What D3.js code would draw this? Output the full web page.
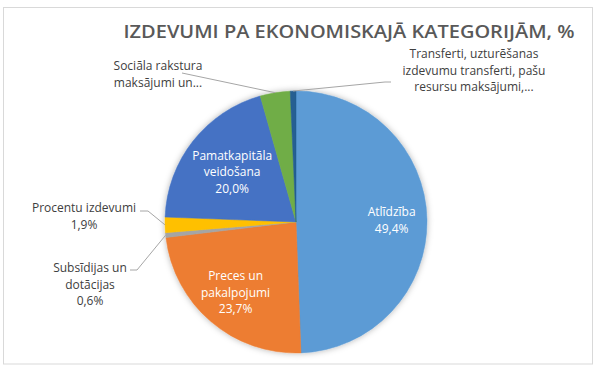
<!DOCTYPE html>
<html>
<head>
<meta charset="utf-8">
<script src="https://cdn.jsdelivr.net/npm/d3@7"></script>
<style>
  html, body { margin: 0; padding: 0; background: #fff; }
  svg { display: block; }
  text { font-family: "Open Sans", "Noto Sans", sans-serif; }
</style>
</head>
<body>
<svg id="chart" width="600" height="371"></svg>
<script>
// ---- Data ----
const title = "IZDEVUMI PA EKONOMISKAJĀ KATEGORIJĀM, %";
const categories = [
  "Atlīdzība",
  "Preces un pakalpojumi",
  "Subsīdijas un dotācijas",
  "Procentu izdevumi",
  "Pamatkapitāla veidošana",
  "Sociāla rakstura maksājumi un...",
  "Transferti, uzturēšanas izdevumu transferti, pašu resursu maksājumi,..."
];
const values = [49.4, 23.7, 0.6, 1.9, 20.0, 3.7, 0.7];
const colors = ["#5B9BD5", "#ED7D31", "#A5A5A5", "#FFC000", "#4472C4", "#70AD47", "#255E91"];
// label text lines (percentage appended where shown)
const labelLines = [
  ["Atlīdzība"],
  ["Preces un", "pakalpojumi"],
  ["Subsīdijas un", "dotācijas"],
  ["Procentu izdevumi"],
  ["Pamatkapitāla", "veidošana"],
  ["Sociāla rakstura", "maksājumi un..."],
  ["Transferti, uzturēšanas", "izdevumu transferti, pašu", "resursu maksājumi,..."]
];
const showPercent = [true, true, true, true, true, false, false];

// ---- Layout ----
const W = 600, H = 371;
const cx = 296, cy = 222, R = 131;
const lineH = 16.5;
// outside labels: text center x, first line y, leader path elbow points (label side)
const outside = {
  2: { x: 90, y: 268, pts: [[130, 270], [137, 270]] },
  3: { x: 84, y: 208, pts: [[140, 211], [148, 211]] },
  5: { x: 158, y: 66, pts: [[182, 73]] },
  6: { x: 474, y: 54, pts: [[391, 82], [385, 82]] }
};
const insideR = { 0: 0.73, 1: 0.71, 4: 0.62 };

const svg = d3.select("#chart");
const defs = svg.append("defs");
const f = defs.append("filter").attr("id", "shadow")
  .attr("x", "-20%").attr("y", "-20%").attr("width", "140%").attr("height", "140%");
f.append("feDropShadow").attr("dx", 0).attr("dy", 0).attr("stdDeviation", 3)
  .attr("flood-color", "#000").attr("flood-opacity", 0.3);

// chart border
svg.append("rect").attr("x", 3.5).attr("y", 7.5).attr("width", 589).attr("height", 356.5)
  .attr("fill", "#fff").attr("stroke", "#D9D9D9").attr("stroke-width", 1);

// title
svg.append("text").attr("x", 349).attr("y", 37.5)
  .attr("text-anchor", "middle").attr("font-size", 18.5).attr("font-weight", 600)
  .attr("fill", "#595959")
  .attr("textLength", 451).attr("lengthAdjust", "spacingAndGlyphs")
  .text(title);

const data = categories.map((c, i) => ({ cat: c, value: values[i], i }));
const pie = d3.pie().sort(null).value(d => d.value).startAngle(0).endAngle(2 * Math.PI);
const arcs = pie(data);
const arc = d3.arc().innerRadius(0).outerRadius(R);

const g = svg.append("g").attr("transform", `translate(${cx},${cy})`);
const slices = g.append("g").attr("filter", "url(#shadow)");
slices.selectAll("path").data(arcs).join("path")
  .attr("d", arc)
  .attr("fill", d => colors[d.data.i])
  .attr("stroke", d => colors[d.data.i]).attr("stroke-width", 0.5);

const fmt = v => d3.format(".1f")(v).replace(".", ",") + "%";
const fs = 12;

arcs.forEach(a => {
  const i = a.data.i;
  const lines = labelLines[i].slice();
  if (showPercent[i]) lines.push(fmt(a.data.value));
  if (outside[i]) {
    const o = outside[i];
    const mid = (a.startAngle + a.endAngle) / 2;
    const edge = [cx + Math.sin(mid) * R, cy - Math.cos(mid) * R];
    const pts = o.pts.concat([edge]);
    svg.append("path")
      .attr("d", d3.line()(pts))
      .attr("fill", "none").attr("stroke", "#A6A6A6").attr("stroke-width", 1);
    const t = svg.append("text").attr("text-anchor", "middle")
      .attr("font-size", fs).attr("fill", "#404040");
    lines.forEach((l, k) => {
      t.append("tspan").attr("x", o.x).attr("y", o.y + k * lineH).attr("dy", "0.35em").text(l);
    });
  } else {
    const rr = R * insideR[i];
    const c = d3.arc().innerRadius(rr).outerRadius(rr).centroid(a);
    const x = cx + c[0], y = cy + c[1];
    const y0 = y - (lines.length - 1) * lineH / 2;
    const t = svg.append("text").attr("text-anchor", "middle")
      .attr("font-size", fs).attr("fill", "#fff");
    lines.forEach((l, k) => {
      t.append("tspan").attr("x", x).attr("y", y0 + k * lineH).attr("dy", "0.35em").text(l);
    });
  }
});
</script>
</body>
</html>
